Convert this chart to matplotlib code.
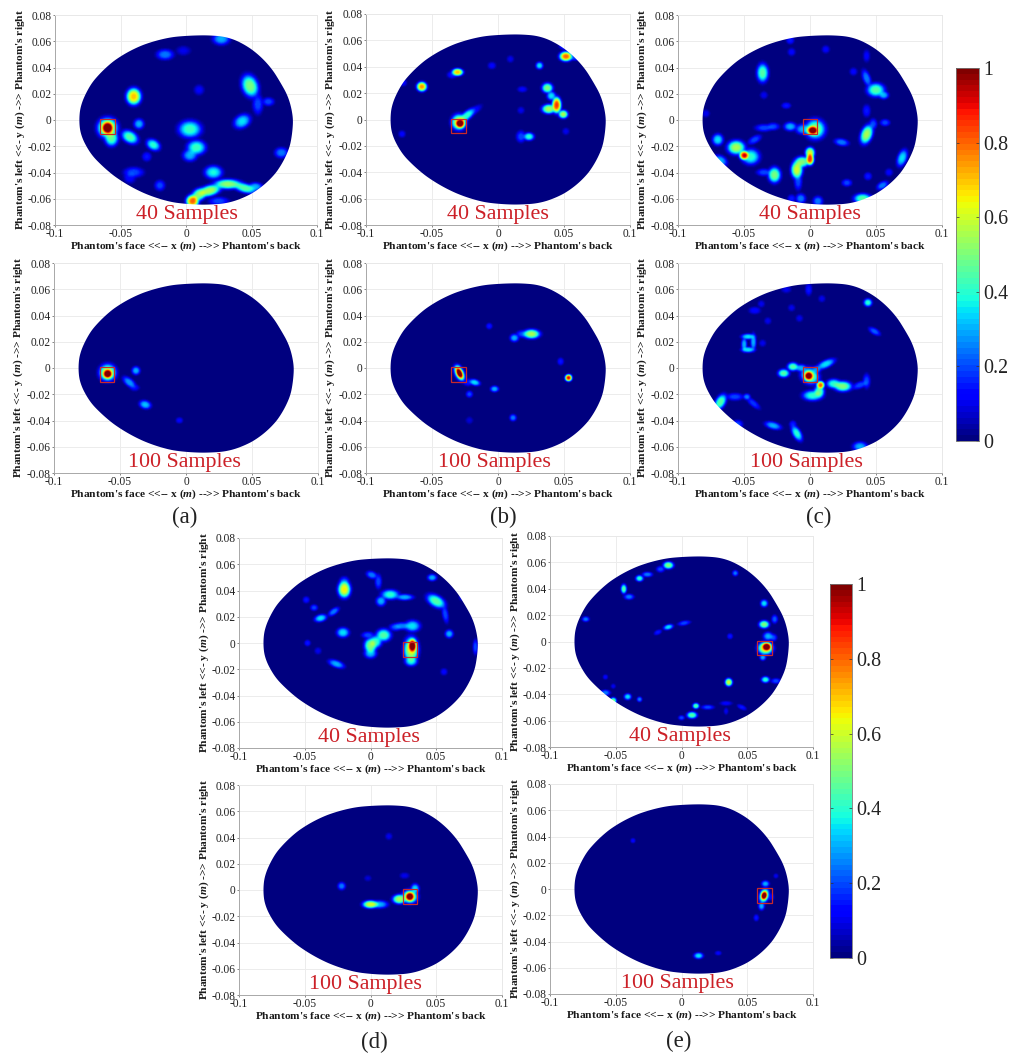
import numpy as np
import matplotlib
matplotlib.use('Agg')
import matplotlib.pyplot as plt
import matplotlib.patches as patches
from matplotlib.cm import ScalarMappable
from matplotlib.colors import Normalize

plt.rcParams['font.family'] = ['Liberation Serif', 'DejaVu Serif']
plt.rcParams['mathtext.fontset'] = 'custom'
plt.rcParams['mathtext.it'] = 'Liberation Serif:italic:bold'
plt.rcParams['mathtext.rm'] = 'Liberation Serif:bold'

W, H = 1022, 1055
SPREAD = 1.5
GROW = 1.25

# phantom outline, mm
outline_x = [0, 27, 38.5, 61, 74, 81.5, 82, 76.5, 61, 38.5, 26, 0, -20, -45, -65, -78, -82.5, -82.5, -78, -65, -45, -20]
outline_y = [64.5, 64.5, 62, 46, 26, 11, -10.6, -30, -50, -62.5, -64.5, -64.5, -61, -50, -35, -19.5, -4, 3, 20, 37.5, 52.5, 62]

x_ticks = [-0.1, -0.05, 0, 0.05, 0.1]
x_ticklabels = ['-0.1', '-0.05', '0', '0.05', '0.1']
y_ticks = [-0.08, -0.06, -0.04, -0.02, 0, 0.02, 0.04, 0.06, 0.08]
y_ticklabels = ['-0.08', '-0.06', '-0.04', '-0.02', '0', '0.02', '0.04', '0.06', '0.08']
cbar_ticks = [0, 0.2, 0.4, 0.6, 0.8, 1]
cbar_ticklabels = ['0', '0.2', '0.4', '0.6', '0.8', '1']

# hot spots: x mm, y mm, level, sx mm, sy mm, angle deg
a40 = [(-60, -6, 1.0, 1.4, 1.6, 0), (-60, -6, .65, 3.0, 3.0, 0), (-57, -14, .45, 1.8, 2.2, 0), (-40, 18, .7, 2.0, 2.4, 0),
       (-36, -3, .3, 1.2, 1.2, 0), (-43, -13, .45, 2.6, 1.5, -30), (-25, -19, .4, 2.0, 1.2, -30), (-30, -28, .15, 1, 1, 0),
       (3, -7, .42, 3.6, 2.5, 0), (8, -21, .42, 2.8, 2.0, 0), (3, -27, .3, 2, 1.5, 0), (43, -1, .35, 2.6, 1.7, 30),
       (49, 26, .5, 2.3, 3.6, 20), (55, 12, .2, 1.2, 3, 0), (63, 14, .2, 1.5, .8, 0), (73, -25, .25, 1.8, 1.2, 0),
       (27, 62, .3, 2.5, 1.5, 0), (-16, 50, .25, 2.5, 1.2, 0), (-2, 53, .1, 2, 1, 0), (10, 23, .12, 1.2, 1.2, 0),
       (-40, -40, .2, 3, 1.2, 0), (-43, -44, .13, 1.5, 1.5, 0), (-20, -50, .2, 1.2, 1.2, 0), (21, -40, .38, 2.6, 1.7, 0),
       (5, -62, .8, 1.6, 1.6, 0), (10, -57, .5, 2.2, 1.5, 30), (18, -54, .55, 3.6, 1.3, 15), (32, -49, .52, 4.5, 1.1, 0),
       (45, -52, .45, 3.6, 1.0, -15), (53, -51, .3, 2, .8, 0), (25, -62, .2, 3, .8, 0)]
b40 = [(-29, -3, 1.0, 1.0, 1.0, 0), (-30, -2, .6, 2.0, 2.2, 0), (-24, 3, .4, 3, .8, 40), (-18, 7, .12, 2.5, .6, 35),
       (-58, 25, .75, 1.1, 1.0, 0), (-72, 28, .12, .6, .6, 0), (-31, 36, .7, 1.3, .6, 0), (-35, 34, .15, 1.2, .6, 0),
       (51, 48, .8, 1.6, 1.0, 0), (50, 56, .2, 1.2, .6, 0), (58, 47, .18, 2.6, .3, 0), (31, 41, .35, .6, .6, 0),
       (-5, 41, .12, .8, .6, 0), (9, 46, .1, .6, .6, 0), (18, 23, .12, 1.1, .4, 0), (17, 7, .1, .6, .6, 0),
       (37, 24, .5, 1.3, 1.1, 0), (40, 18, .35, .9, .9, 0), (44, 11, .85, .9, 2.2, 0), (38, 8, .55, 1.8, 1.0, 0),
       (49, 4, .55, 1.0, .8, 0), (23, -13, .4, 1.2, .7, 0), (17, -13, .2, 1.0, 1.4, 0), (-73, -11, .12, .6, .6, 0), (51, -9, .1, .6, .6, 0)]
c40 = [(2, -8, 1.0, 1.4, 1.0, 0), (4, -7, .5, 3.0, 3.0, 0), (-5, -7, .3, 2.2, 1.2, 0), (-15, -5, .3, 1.6, .9, 0),
       (-50, -27, .9, 1.0, .9, 0), (-56, -21, .55, 2.6, 1.9, 0), (-45, -28, .4, 2.6, 2.2, 0), (-70, -15, .35, 1.3, 1.4, 0),
       (-68, -31, .3, 2.0, 1.1, -30), (-42, -15, .2, 2, .6, 30), (-35, -6, .2, 2.6, .6, 0), (-28, -5, .2, 1.6, .6, 0),
       (0, -30, .85, .7, 1.4, 0), (0, -25, .6, 1.0, 1.3, 0), (-10, -38, .6, 1.4, 2.6, 0), (-6, -32, .5, 2.0, 1.3, 0),
       (-9, -47, .2, .7, 2.6, 0), (-27, -42, .5, 1.6, 2.2, 0), (-35, -40, .2, 2.0, .6, 0), (-36, 36, .45, 1.4, 2.8, 0),
       (50, 23, .45, 2.6, 1.8, 0), (43, 32, .25, .7, 2.6, 20), (56, 19, .3, 1.1, .7, 0), (43, -11, .55, 1.4, 3.0, -20),
       (48, -3, .2, .7, 1.2, 0), (57, -2, .2, 1.1, .5, 0), (24, -17, .25, 2.0, .6, -10), (43, 7, .15, .7, 1.6, 0),
       (-18, 11, .15, 1.0, .4, 0), (-35, 19, .1, .7, .7, 0), (-79, 5, .1, .7, .7, 0), (70, -29, .35, 1.0, 2.6, -20),
       (40, -60, .45, 2.6, 1.1, 0), (28, -48, .2, 1.1, .6, 0), (55, -50, .25, 1.6, .6, 30), (44, -43, .15, .7, .7, 0),
       (60, -40, .12, .7, .7, 0), (-7, -60, .25, 1.1, 1.1, 0), (6, -62, .25, 1.1, 1.1, 0), (-14, -60, .15, .7, .7, 0),
       (-15, 61, .15, .7, .7, 0), (-14, 52, .12, .7, .7, 0), (12, 54, .12, .7, .7, 0), (43, 49, .12, .5, 1.6, 0), (33, 37, .12, .7, .7, 0)]
a100 = [(-59.5, -4.5, 1.0, 1.0, 1.0, 0), (-59.5, -3.5, .6, 2.4, 2.4, 0), (-38, -2, .3, .8, .8, 0), (-43, -11, .28, 2.2, .7, -40),
        (-39, -15, .12, 1.1, .5, 0), (-31, -28, .32, 1.5, .8, -15), (-5, -40, .12, .6, .4, 0)]
b100 = [(-29.5, -4, 1.0, .4, 1.6, 25), (-29.5, -4, .55, 1.0, 2.4, 25), (-31, 0, .3, .6, .6, 0), (-18, -11, .35, 1.3, .4, -15),
        (-23, -11, .15, 1.1, .6, 0), (-22, -20, .2, .5, .5, 0), (-3, -16, .3, .8, .4, 0), (-7, 32, .15, .4, .4, 0),
        (11, -38, .25, .5, .5, 0), (-22, -40, .08, .6, .6, 0), (25, 26, .55, 2.4, 1.0, 0), (12, 23, .3, .9, .7, 0),
        (18, 26, .2, 1.5, .6, 0), (47, 5, .15, .4, .6, 0), (53, -7.5, .9, .5, .5, 0)]
c100 = [(-1, -6, 1.0, 1.0, 1.0, 0), (0, -6, .5, 2.8, 2.2, -30), (8, -13, .8, .7, .7, 0), (-20, -4, .45, 1.4, .8, 0),
        (-13, 1, .45, 1.3, .8, 0), (-7, 0, .3, 1.5, .6, 0), (12, 3, .35, 3.0, .7, 25), (5, -1, .25, 1.0, .6, 0),
        (25, -14, .5, 2.6, 1.2, 0), (18, -12, .4, 2.0, 1.0, 0), (38, -13, .2, 2.4, .5, 20), (43, -10, .2, .6, 2.0, 0),
        (2, -21, .4, 3.0, 1.2, 0), (7, -18, .45, 1.2, 1.5, 0), (-47, 24, .35, 1.8, .3, 0), (-50, 18, .3, .3, 1.8, 0),
        (-47, 14, .35, 1.8, .3, 0), (-43, 20, .3, .3, 2.4, 0), (-36, 19, .1, .6, .6, 0), (-68, -26, .45, 1.1, 2.5, -30),
        (-57, -22, .2, 2.4, .6, 0), (-48, -22, .25, .6, .4, 0), (-43, -27, .18, 2.4, .4, -40), (-55, -43, .2, 1.2, .8, 0),
        (-28, -44, .3, 2.4, .6, -15), (-10, -50, .4, .8, 2.4, 30), (-13, -43, .15, .6, .6, 0), (38, -60, .3, 2.0, 1.0, 0),
        (44, 50, .4, .8, .7, 0), (49, 28, .22, 1.7, .4, -30), (-42, 44, .13, 1.5, .6, 0), (-37, 49, .1, .6, .6, 0),
        (-1, 60, .15, .5, 1.5, 0), (-18, 60, .1, 1.1, .6, 0), (-32, 36, .1, .6, .6, 0), (-8, 38, .1, .6, .6, 0),
        (-14, 46, .1, .6, .6, 0), (9, 53, .1, .6, .6, 0)]
d40 = [(32, -2, 1.0, .8, 1.8, 0), (31, -5, .6, 2.0, 4.0, 0), (31, -14, .35, 1.6, 1.0, 0), (32, 13, .35, 2.2, 1.4, 0),
       (24, 13, .25, 2.6, .6, 0), (19, 12, .2, 1.6, .6, 0), (0, -2, .5, 1.6, 2.1, 0), (10, 6, .45, 2.1, 1.6, 0), (4, 1, .4, 1.6, 1.6, 0),
       (0, -8, .3, 1.6, 1.1, 0), (-2, 6, .2, 1.6, .5, 0), (-20, 41, .65, 1.6, 2.4, 0), (-20, 47, .2, 1.1, 1.1, 0),
       (1, 52, .25, 1.4, .6, -20), (6, 47, .2, .5, 2.0, 0), (15, 37, .4, 2.6, 1.1, 0), (8, 32, .3, 1.1, 1.1, 0),
       (26, 35, .3, 2.6, .4, 0), (50, 32, .45, 3.1, 1.4, -30), (57, 22, .2, .4, 2.6, 10), (60, 7, .3, .8, .8, 0),
       (47, 50, .3, 1.0, .5, 0), (70, 35, .1, .6, .6, 0), (-38, 19, .35, 1.6, .6, 15), (-28, 24, .25, 1.6, .4, 35),
       (-43, 27, .2, .6, .4, 0), (-49, 33, .15, .5, .5, 0), (-21, 8, .35, 1.6, 1.1, 0), (-48, 0, .15, .4, .4, 0),
       (-40, -6, .1, .6, .6, 0), (-26, -16, .3, 2.4, .6, -20), (56, -22, .12, .6, .6, 0), (80, -3, .2, .2, 2.1, 0)]
e40 = [(65, -4, 1.0, 1.0, .8, 0), (64, -5, .65, 2.1, 1.6, 0), (62, -12, .3, .4, .4, 0), (66, 4, .3, 1.1, .8, 0), (70, 3, .2, .6, .6, 0),
       (63, 13, .5, 1.2, .7, 0), (63, 29, .35, .6, .6, 0), (71, 17, .22, .4, .8, 0), (64, -29, .4, .8, .4, 0), (72, -30, .2, 1.1, .2, 0),
       (36, -31, .6, .6, .7, 0), (37, 4, .15, .3, .3, 0), (41, 52, .25, .3, .3, 0), (-10, 58, .5, 1.2, .6, 0), (-16, 55, .2, .8, .4, 0),
       (-32, 48, .4, .7, .4, 0), (-26, 51, .25, 1.2, .2, 0), (-44, 40, .45, .3, 1.0, 0), (-40, 34, .25, 1.1, .3, 0),
       (-73, 17, .25, .6, .2, 0), (-10, 11, .35, 1.1, .2, 15), (-18, 7, .15, .8, .1, 25), (2, 14, .2, 1.6, .1, 10),
       (-58, -27, .12, .2, .2, 0), (-58, -39, .25, 1.1, .3, 0), (-52, -45, .5, .4, .4, 0), (-41, -42, .35, .6, .4, 0),
       (-32, -44, .25, .2, .2, 0), (-52, -34, .1, .2, .2, 0), (11, -49, .45, .5, .3, 0), (20, -50, .2, 1.6, .1, 0),
       (34, -47, .12, 1.6, .1, 0), (46, -50, .15, 1.1, .1, -25), (8, -56, .45, 1.2, .5, 0), (0, -58, .2, .4, .1, 0), (34, -53, .1, .1, .6, 0)]
d100 = [(30, -5, 1.0, 1.0, 1.0, 0), (30, -5, .55, 2.2, 1.8, 0), (22, -7, .55, 1.8, 1.0, 0), (34, 1, .35, .8, 1.1, 0),
        (0, -11, .6, 2.2, .7, 0), (7, -11, .3, 2.4, .7, 0), (-22, 3, .25, .7, .7, 0), (14, 41, .1, .6, .6, 0),
        (-2, 9, .08, .6, .4, 0), (26, 11, .1, 1.1, .4, 0)]
e100 = [(63, -5, 1.0, .4, .9, -15), (63, -5, .6, 1.0, 2.0, -15), (61, -13, .3, .4, .8, 0), (57, -22, .15, .2, .5, 0),
        (64, 4, .3, .7, .4, 0), (72, 10, .1, .2, .2, 0), (68, -6, .12, .6, .6, 0), (13, -51, .35, 1.0, .4, 0),
        (28, -49, .12, .5, .1, 0), (-37, 37, .12, .2, .2, 0)]

# left, right, top, bottom of each map in image pixels
panel_boxes = [(55, 317, 15, 225), (366, 630, 14, 225), (678, 942, 15, 225),
               (54, 318, 263, 473), (366, 630, 263, 473), (678, 942, 263, 473),
               (239, 502, 538, 748), (550, 813, 536, 747),
               (239, 502, 785, 995), (550, 813, 784, 994)]
panel_spots = [a40, b40, c40, a100, b100, c100, d40, e40, d100, e100]
panel_truth_x = [-60, -30, 0, -60, -30, 0, 30, 63, 30, 63]
panel_titles = ['40 Samples'] * 3 + ['100 Samples'] * 3 + ['40 Samples'] * 2 + ['100 Samples'] * 2
title_x = [1, 0, 0, -1, -3, -3, -1, -1, -4, -3]

letters = ['(a)', '(b)', '(c)', '(d)', '(e)']
letter_xy = [(185, 517), (503, 517), (819, 517), (374, 1042), (679, 1041)]

cbar_boxes = [(956, 979, 68, 441), (830, 852, 584, 958)]

XLABEL = r"Phantom's face <<-- x ($\mathit{m}$) -->> Phantom's back"
YLABEL = r"Phantom's left <<- y ($\mathit{m}$) ->> Phantom's right"

cmap = plt.get_cmap('jet', 64)
gx, gy = np.meshgrid(np.arange(-100, 100.5, 0.5), np.arange(-80, 80.5, 0.5))


def px_axes(fig, box):
    l, r, t, b = box
    return fig.add_axes([l / W, 1 - b / H, (r - l) / W, (b - t) / H])


def field(spots):
    total = np.zeros_like(gx)
    for x0, y0, level, sx, sy, ang in spots:
        th = np.deg2rad(ang)
        u = (gx - x0) * np.cos(th) + (gy - y0) * np.sin(th)
        v = -(gx - x0) * np.sin(th) + (gy - y0) * np.cos(th)
        # flat top, steep edge, the reference spots have hard rims
        r2 = (u / (sx * SPREAD + GROW)) ** 2 + (v / (sy * SPREAD + GROW)) ** 2
        total += (level * np.exp(-0.5 * r2 ** 1.5)) ** 2
    return np.clip(np.sqrt(total), 0, 1)


def smooth_outline():
    # resample the read points by arc length and run a circular moving average
    pts = np.column_stack([outline_x, outline_y]) / 1000
    closed = np.vstack([pts, pts[:1]])
    dist = np.r_[0, np.cumsum(np.hypot(*np.diff(closed, axis=0).T))]
    s = np.linspace(0, dist[-1], 400, endpoint=False)
    xs = np.interp(s, dist, closed[:, 0])
    ys = np.interp(s, dist, closed[:, 1])
    kernel = np.ones(25) / 25
    sx = np.convolve(np.r_[xs[-25:], xs, xs[:25]], kernel, mode='same')[25:-25]
    sy = np.convolve(np.r_[ys[-25:], ys, ys[:25]], kernel, mode='same')[25:-25]
    return np.column_stack([sx, sy])


def draw_map(ax, spots, truth_x, title, tx):
    ax.set_axisbelow(True)
    ax.grid(color='#ececec', lw=0.7)
    im = ax.imshow(field(spots), extent=[-0.1, 0.1, -0.08, 0.08], origin='lower', cmap=cmap,
                   vmin=0, vmax=1, interpolation='bilinear', aspect='auto', zorder=1)
    clip = patches.Polygon(smooth_outline(), closed=True, transform=ax.transData, fc='none', ec='none')
    ax.add_patch(clip)
    im.set_clip_path(clip)
    ax.add_patch(patches.Rectangle((truth_x / 1000 - 0.0055, -0.0105), 0.011, 0.011, fc='none',
                                   ec='#c8282c', lw=0.9, zorder=3))
    ax.set_xlim(-0.1, 0.1)
    ax.set_ylim(-0.08, 0.08)
    ax.set_xticks(x_ticks, x_ticklabels)
    ax.set_yticks(y_ticks, y_ticklabels)
    ax.tick_params(labelsize=8.3, length=1.5, width=0.5, pad=1, colors='#555555', labelcolor='#222222')
    for side in ['left', 'bottom']:
        ax.spines[side].set_color('#a8a8a8')
        ax.spines[side].set_linewidth(0.7)
    for side in ['top', 'right']:
        ax.spines[side].set_color('#e8e8e8')
        ax.spines[side].set_linewidth(0.7)
    ax.set_xlabel(XLABEL, fontsize=8.2, fontweight='bold', color='#1a1a1a', va='center')
    ax.xaxis.set_label_coords(0.5, -0.1)
    ax.set_ylabel(YLABEL, fontsize=8.2, fontweight='bold', color='#1a1a1a', va='center')
    ax.yaxis.set_label_coords(-0.134, 0.5)
    ax.text(tx / 1000, -0.072, title, color='#cc2027', fontsize=15.8, ha='center', va='center', zorder=5)


fig = plt.figure(figsize=(W / 100, H / 100), dpi=100, facecolor='white')

for box, spots, truth_x, title, tx in zip(panel_boxes, panel_spots, panel_truth_x, panel_titles, title_x):
    draw_map(px_axes(fig, box), spots, truth_x, title, tx)

for box in cbar_boxes:
    cax = px_axes(fig, box)
    cb = fig.colorbar(ScalarMappable(Normalize(0, 1), cmap), cax=cax, ticks=cbar_ticks)
    cb.ax.set_yticklabels(cbar_ticklabels)
    cb.ax.tick_params(labelsize=14.4, direction='in', length=2.5, width=0.5, pad=3, left=True, right=True,
                      color='#333333', labelcolor='#222222')
    cb.outline.set_edgecolor('#777777')
    cb.outline.set_linewidth(0.6)

for text, (px, py) in zip(letters, letter_xy):
    fig.text(px / W, 1 - py / H, text, fontsize=16.5, color='#222222', ha='center', va='center')

fig.savefig('out.png', dpi=100)
